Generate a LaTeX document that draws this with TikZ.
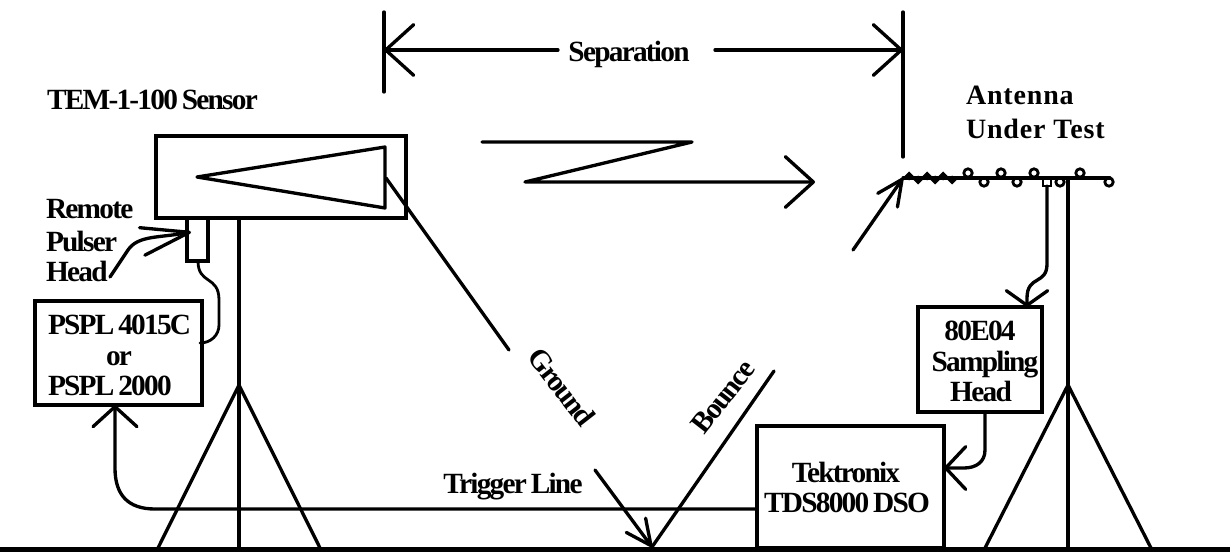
\documentclass[tikz,border=0pt]{standalone}
\usepackage{fontspec}
\setmainfont{Liberation Serif}
\newfontface\tightbf{Liberation Serif Bold}[LetterSpace=-6,WordSpace=0.7]
\newfontface\widebf{Liberation Serif Bold}[LetterSpace=3]
\usetikzlibrary{arrows.meta}
\tikzset{
  wire/.style={line width=2.5pt,line cap=round,line join=round},
  thin wire/.style={line width=2.1pt,line cap=round,line join=round},
  boxed/.style={draw,line width=2.5pt,rectangle,inner sep=0pt,outer sep=0pt},
  txt/.style={font=\tightbf\fontsize{22}{23.25}\selectfont,inner sep=0pt,outer sep=0pt,align=center},
  bigtip/.style={-{Straight Barb[length=21pt,width=38pt,round]}},
  lowtip/.style={-{Straight Barb[length=15pt,width=33pt,round]}},
  midtip/.style={-{Straight Barb[length=15pt,width=32pt,round]}},
  smalltip/.style={-{Straight Barb[length=11pt,width=31pt,round]}},
  slimtip/.style={-{Straight Barb[length=19pt,width=18pt,round]}},
}
\begin{document}
\begin{tikzpicture}[x=0.75pt,y=-0.75pt]
\useasboundingbox (0,0) rectangle (1230,552);
% boxes
\node[boxed,minimum width=187.5pt,minimum height=61.5pt] (sensor) at (281,177) {};
\node[boxed,minimum width=15.75pt,minimum height=32.25pt] (pulser) at (197.5,239.5) {};
\node[boxed,minimum width=125.25pt,minimum height=78pt] (pspl) at (118.5,353) {};
\node[boxed,minimum width=93pt,minimum height=78.75pt] (head) at (980,359.5) {};
\node[boxed,minimum width=140.25pt,minimum height=91.5pt] (tek) at (850.5,487) {};
% ground
\coordinate (gl) at (0,549.6); \coordinate (gr) at (1230,549.6);
\draw[line width=3.5pt] (gl) -- (gr);
% sensor horn
\coordinate (apex) at (197,177); \coordinate (hornT) at (385,147); \coordinate (hornB) at (385,208);
\draw[wire] (apex) -- (hornT) -- (hornB) -- cycle;
% left tripod
\coordinate (lfoot) at (239,548); \coordinate (lhub) at (239,385);
\coordinate (lfootL) at (158,548); \coordinate (lfootR) at (320,548);
\draw[wire] (sensor.south -| lfoot) -- (lfoot);
\draw[wire] (lfootL) -- (lhub) -- (lfootR);
% right tripod
\coordinate (rtop) at (1068,178); \coordinate (rfoot) at (1068,548); \coordinate (rhub) at (1068,385);
\coordinate (rfootL) at (985,548); \coordinate (rfootR) at (1151,548);
\draw[wire] (rtop) -- (rfoot);
\draw[wire] (rfootL) -- (rhub) -- (rfootR);
% separation
\coordinate (sepL) at (384,12); \coordinate (sepLb) at (384,92);
\coordinate (sepR) at (903,12); \coordinate (sepRb) at (903,157);
\coordinate (sepLt) at (558,50); \coordinate (sepRt) at (715,50);
\draw[wire] (sepL) -- (sepLb);
\draw[wire] (sepR) -- (sepRb);
\draw[wire,bigtip] (sepLt) -- (sepL |- sepLt);
\draw[wire,bigtip] (sepRt) -- (sepR |- sepRt);
\node[txt] (septxt) at (629,54) {Separation};
% zigzag
\coordinate (z1) at (482,142); \coordinate (z2) at (692,142); \coordinate (z3) at (525,182); \coordinate (z4) at (815,182);
\draw[wire,bigtip] (z1) -- (z2) -- (z3) -- (z4);
% antenna
\coordinate (boomL) at (903,178); \coordinate (boomR) at (1110,178);
\draw[wire] (boomL) -- (boomR);
\coordinate (antTail) at (853,250);
\draw[wire,slimtip] (antTail) -- (boomL);
\foreach \x/\y in {909/176,918/180,927/176,935/180,943/176,952/180}
  \fill (\x,\y) +(-4.5,0) -- +(0,-4.5) -- +(4.5,0) -- +(0,4.5) -- cycle;
\foreach \x in {968,1001,1034,1080}
  \draw[line width=2.1pt] (\x,173) circle[radius=4.2];
\foreach \x in {984,1017,1060,1109}
  \draw[line width=2.1pt] (\x,182) circle[radius=4.2];
\node[draw,line width=2.1pt,minimum width=6pt,minimum height=6pt,inner sep=0pt,outer sep=0pt] (feed) at (1047,182) {};
% feed to sampling head
\coordinate (c1) at (1047,264);
\draw[wire,smalltip] (feed.south) -- (c1) .. controls (1047,285) and (1027,275) .. (1027,298) -- (head.north -| 1027,307);
% sampling head to scope
\coordinate (c2) at (985,450); \coordinate (c3) at (964,468);
\draw[wire,midtip] (head.south -| c2) -- (c2) .. controls (985,462) and (976,468) .. (c3) -- (tek.east |- c3);
% pulser cable
\coordinate (p1) at (198,261); \coordinate (p2) at (219,300); \coordinate (p3) at (219,325); \coordinate (p4) at (200,343);
\draw[thin wire] (pulser.south -| p1) .. controls (198,285) and (219,275) .. (p2) -- (p3) .. controls (219,335) and (211,343) .. (p4);
% pulser label arrow
\coordinate (hd1) at (110,277); \coordinate (hd2) at (128,250); \coordinate (hd3) at (191,232);
\draw[wire,-{Straight Barb[length=36pt,width=21pt,round]}] (hd1) -- (hd2) .. controls (138,235) and (160,238) .. (hd3);
% trigger line
\coordinate (t1) at (155,509); \coordinate (t2) at (115,468);
\draw[wire,lowtip] (tek.west |- t1) -- (t1) .. controls (128,509) and (115,495) .. (t2) -- (pspl.south -| t2);
% ground bounce
\coordinate (bounce) at (652,547); \coordinate (gtail) at (386,178); \coordinate (gend) at (509,350);
\coordinate (atail) at (595,470); \coordinate (bend) at (774,371);
\draw[wire] (gtail) -- (gend);
\draw[wire,slimtip] (atail) -- (bounce);
\draw[wire] (bounce) -- (bend);
% text
\node[txt,anchor=base west] (tem) at (47,110) {TEM-1-100 Sensor};
\node[txt,anchor=base west] (rem) at (46,219) {Remote};
\node[txt,anchor=base west] (pul) at (46,251) {Pulser};
\node[txt,anchor=base west] (hea) at (46,281) {Head};
\node[txt,anchor=base west] (p4015) at (48,334) {PSPL 4015C};
\node[txt,anchor=base] (por) at (119,365) {or};
\node[txt,anchor=base west] (p2000) at (48,395) {PSPL 2000};
\node[txt,anchor=base] (s1) at (980,340) {80E04};
\node[txt,anchor=base] (s2) at (985,371) {Sampling};
\node[txt,anchor=base] (s3) at (981,401) {Head};
\node[txt,anchor=base] (k1) at (846,482) {Tektronix};
\node[txt,anchor=base] (k2) at (847,512) {TDS8000 DSO};
\node[txt,anchor=base] (trig) at (513,493) {Trigger Line};
\node[txt,rotate=-52] (grd) at (562,387) {Ground};
\node[txt,rotate=52] (bnc) at (723,397) {Bounce};
\node[txt,font=\widebf\fontsize{21}{23.25}\selectfont,anchor=base west] (a1) at (966,105) {Antenna};
\node[txt,font=\widebf\fontsize{21}{23.25}\selectfont,anchor=base west] (a2) at (966,139) {Under Test};
\end{tikzpicture}
\end{document}
